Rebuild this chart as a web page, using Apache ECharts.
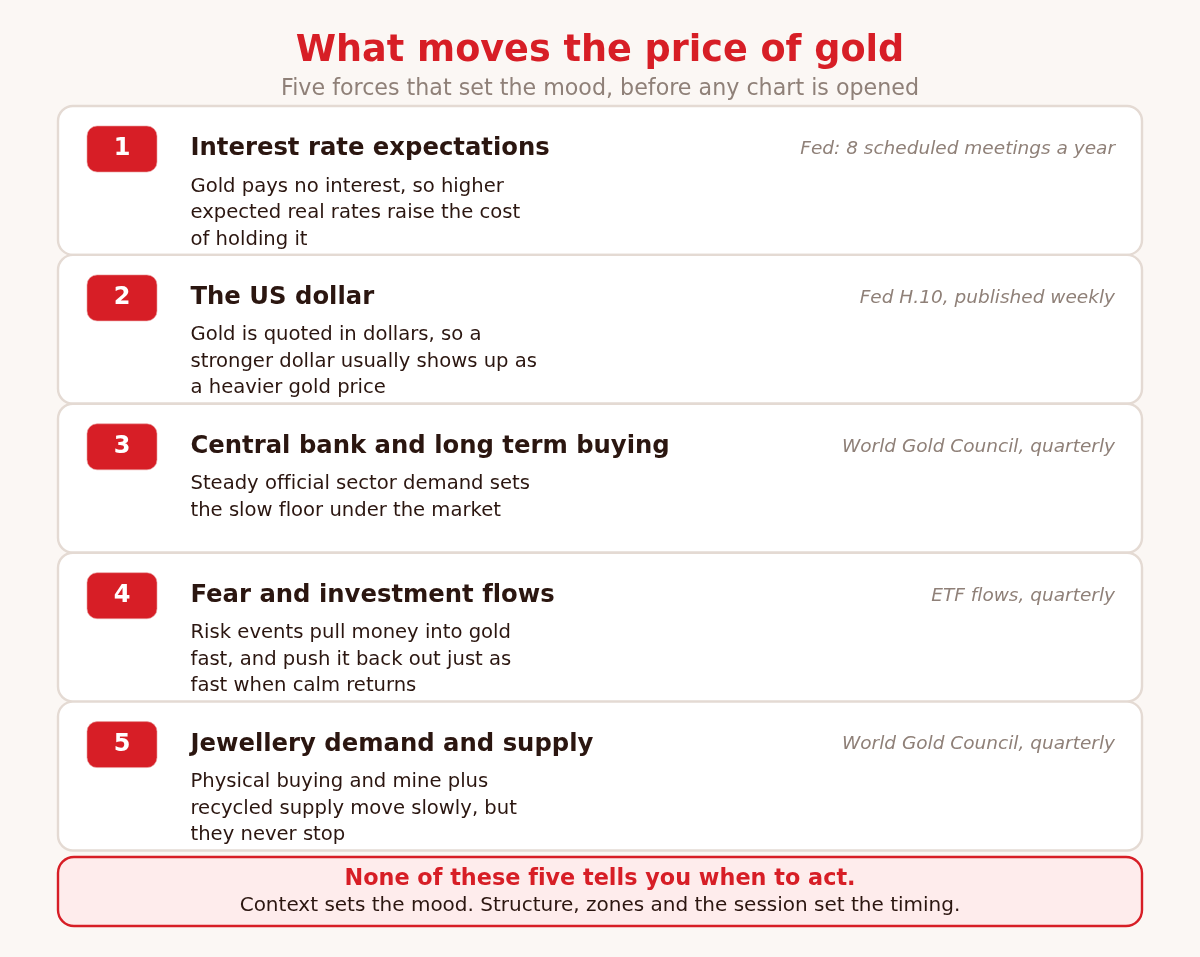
<!DOCTYPE html>
<html><head><meta charset="utf-8">
<script src="https://cdn.jsdelivr.net/npm/echarts@6/dist/echarts.min.js"></script>
<style>html,body{margin:0;padding:0;background:#fbf7f4}#c{width:1200px;height:957px}</style>
</head><body><div id="c"></div>
<script>
const chartTitle = 'What moves the price of gold';
const chartSubtitle = 'Five forces that set the mood, before any chart is opened';
const ranks = ['1','2','3','4','5'];
const forces = ['Interest rate expectations','The US dollar','Central bank and long term buying','Fear and investment flows','Jewellery demand and supply'];
const descriptions = [
 ['Gold pays no interest, so higher','expected real rates raise the cost','of holding it'],
 ['Gold is quoted in dollars, so a','stronger dollar usually shows up as','a heavier gold price'],
 ['Steady official sector demand sets','the slow floor under the market'],
 ['Risk events pull money into gold','fast, and push it back out just as','fast when calm returns'],
 ['Physical buying and mine plus','recycled supply move slowly, but','they never stop']
];
const sources = ['Fed: 8 scheduled meetings a year','Fed H.10, published weekly','World Gold Council, quarterly','ETF flows, quarterly','World Gold Council, quarterly'];
const calloutHead = 'None of these five tells you when to act.';
const calloutBody = 'Context sets the mood. Structure, zones and the session set the timing.';

// The reference sets its text without f-ligatures.
const fontProp = Object.getOwnPropertyDescriptor(CanvasRenderingContext2D.prototype, 'font');
Object.defineProperty(CanvasRenderingContext2D.prototype, 'font', {
  get: function(){ return fontProp.get.call(this); },
  set: function(v){ this.textRendering = 'optimizeSpeed'; fontProp.set.call(this, v); }
});

const FONT = '"DejaVu Sans", sans-serif';
const RED = '#d71e26', INK = '#2b1610', MUTED = '#8f8078', EDGE = '#e4dad3';
const chart = echarts.init(document.getElementById('c'), null, {renderer:'canvas'});

function renderCard(params, api){
  const i = api.value(1);
  const c = api.coord([0, i]);
  const h = api.size([0, 1])[1];
  const left = params.coordSys.x, w = params.coordSys.width;
  const top = c[1] - h/2;
  const kids = [
    {type:'rect', shape:{x:left, y:top, width:w, height:h, r:15}, style:{fill:'#fff', stroke:EDGE, lineWidth:2.4}},
    {type:'rect', shape:{x:left+29, y:top+20, width:70, height:46, r:10}, style:{fill:RED, stroke:'#e8a0a0', lineWidth:0.6}},
    {type:'text', style:{x:left+64, y:top+43, text:ranks[i], fill:'#fff', font:'bold 24px '+FONT, textAlign:'center', textVerticalAlign:'middle'}},
    {type:'text', style:{x:left+132.5, y:top+43, text:forces[i], fill:INK, font:'bold 24.3px '+FONT, textAlign:'left', textVerticalAlign:'middle'}},
    {type:'text', style:{x:left+w-27, y:top+43, text:sources[i], fill:MUTED, font:'italic 18.5px '+FONT, textAlign:'right', textVerticalAlign:'middle'}}
  ];
  descriptions[i].forEach(function(line, k){
    kids.push({type:'text', style:{x:left+132.5, y:top+80.5+k*26.5, text:line, fill:INK, font:'19.6px '+FONT, textAlign:'left', textVerticalAlign:'middle'}});
  });
  return {type:'group', children:kids};
}

chart.setOption({
  backgroundColor:'#fbf7f4',
  animation:false,
  title:{text:chartTitle, subtext:chartSubtitle, left:'center', top:28, itemGap:8,
    textStyle:{fontFamily:FONT, fontSize:36.6, fontWeight:'bold', color:RED},
    subtextStyle:{fontFamily:FONT, fontSize:22.2, color:MUTED}},
  grid:{left:58, top:106, width:1084, height:744.5},
  xAxis:{type:'value', min:0, max:1, show:false},
  yAxis:{type:'category', data:forces, inverse:true, show:false},
  series:[{type:'custom', renderItem:renderCard, silent:true, clip:false,
    encode:{x:0,y:1}, data:forces.map(function(_,i){return [0,i];})}],
  graphic:[
    {type:'rect', shape:{x:58,y:857,width:1084,height:69,r:16}, style:{fill:'#feecec', stroke:RED, lineWidth:2.4}},
    {type:'text', style:{x:600,y:879.5,text:calloutHead,fill:RED,font:'bold 22.35px '+FONT,textAlign:'center',textVerticalAlign:'middle'}},
    {type:'text', style:{x:600,y:905.5,text:calloutBody,fill:INK,font:'20px '+FONT,textAlign:'center',textVerticalAlign:'middle'}}
  ]
});
</script></body></html>
